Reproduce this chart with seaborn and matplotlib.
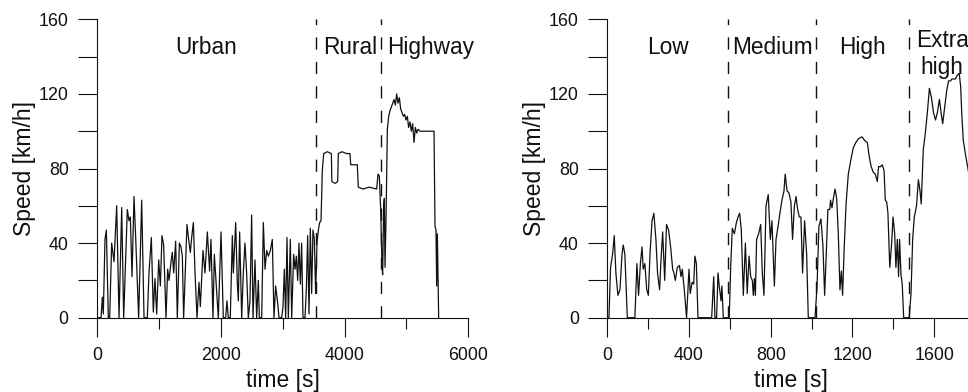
import matplotlib
matplotlib.use("Agg")
import matplotlib.pyplot as plt
import seaborn as sns

# RDE trip (left panel)
rde_time = [0, 65, 86, 102, 129, 151, 183, 205, 237, 275, 318, 356, 399, 431, 490, 517, 539, 566,
            598, 625, 673, 722, 760, 813, 840, 878, 910, 937, 964, 997, 1024, 1050, 1077, 1115,
            1142, 1164, 1196, 1217, 1239, 1271, 1298, 1331, 1357, 1379, 1400, 1454, 1481, 1508,
            1530, 1557, 1584, 1616, 1648, 1670, 1713, 1745, 1783, 1820, 1842, 1874, 1896, 1934,
            1960, 2004, 2041, 2079, 2100, 2122, 2154, 2187, 2203, 2241, 2268, 2284, 2305, 2338,
            2364, 2391, 2418, 2445, 2472, 2499, 2521, 2553, 2580, 2607, 2623, 2661, 2688, 2715,
            2742, 2769, 2801, 2833, 2860, 2887, 2919, 2941, 2984, 3006, 3027, 3049, 3070, 3092,
            3124, 3146, 3178, 3200, 3221, 3243, 3264, 3286, 3307, 3329, 3361, 3383, 3404, 3426,
            3447, 3469, 3490, 3512, 3533, 3555, 3577, 3598, 3620, 3641, 3663, 3720, 3787, 3795,
            3850, 3889, 3900, 3960, 4030, 4088, 4100, 4160, 4207, 4222, 4300, 4400, 4519, 4541,
            4562, 4584, 4606, 4616, 4632, 4643, 4654, 4670, 4692, 4713, 4735, 4767, 4800, 4821,
            4843, 4864, 4886, 4907, 4929, 4950, 4972, 4993, 5015, 5036, 5058, 5080, 5101, 5123,
            5144, 5166, 5187, 5220, 5327, 5446, 5462, 5478, 5489, 5500, 5521]
rde_speed = [0, 0, 11, 2, 42, 47, 0, 0, 40, 30, 60, 0, 59, 0, 58, 52, 54, 22,
             65, 43, 0, 63, 0, 0, 24, 43, 3, 21, 2, 31, 17, 44, 39, 0,
             26, 20, 30, 35, 24, 41, 0, 40, 38, 33, 0, 50, 42, 35,
             43, 51, 24, 0, 19, 6, 36, 24, 46, 25, 42, 0, 34, 14,
             0, 46, 0, 0, 9, 0, 0, 44, 24, 51, 18, 9, 46, 0,
             24, 40, 24, 0, 9, 55, 0, 31, 0, 20, 0, 0, 51, 26,
             36, 33, 36, 42, 0, 17, 8, 0, 0, 6, 26, 0, 43, 0,
             42, 0, 34, 26, 33, 20, 40, 18, 40, 0, 0, 15, 44, 2,
             48, 13, 47, 42, 13, 40, 47, 51, 52, 79, 88, 89, 88, 73,
             72, 73, 88, 89, 88, 88, 82, 82, 82, 70, 69, 70, 69, 77,
             76, 58, 27, 23, 60, 64, 27, 52, 101, 108, 111, 114, 117, 114,
             120, 115, 118, 112, 110, 108, 109, 106, 108, 102, 105, 100, 104, 94,
             102, 99, 101, 100, 100, 100, 49, 47, 17, 45, 0]

# WLTC (right panel)
wltc_time = [0, 8, 16, 26, 34, 42, 52, 62, 72, 78, 86, 98, 135, 145, 153, 162, 170, 176, 184,
             193, 201, 209, 219, 228, 238, 246, 256, 263, 271, 281, 290, 300, 310, 320, 326,
             333, 343, 353, 361, 367, 377, 388, 400, 406, 415, 423, 429, 436, 444, 511, 521,
             527, 535, 542, 548, 557, 561, 568, 597, 604, 612, 622, 632, 640, 648, 656, 666,
             676, 685, 694, 702, 710, 715, 720, 725, 731, 741, 751, 759, 767, 777, 788, 798,
             806, 818, 826, 836, 845, 855, 865, 871, 880, 889, 899, 907, 916, 924, 932, 940,
             948, 956, 966, 976, 984, 1017, 1027, 1036, 1046, 1056, 1064, 1072, 1080, 1089,
             1093, 1100, 1107, 1115, 1123, 1131, 1139, 1146, 1152, 1160, 1169, 1180, 1193,
             1204, 1217, 1230, 1247, 1260, 1273, 1283, 1292, 1302, 1312, 1322, 1328, 1338,
             1346, 1355, 1361, 1368, 1374, 1383, 1391, 1399, 1407, 1413, 1420, 1426, 1431,
             1438, 1444, 1451, 1478, 1487, 1495, 1503, 1514, 1523, 1531, 1537, 1547, 1557,
             1567, 1577, 1587, 1597, 1607, 1616, 1626, 1634, 1642, 1652, 1662, 1671, 1681,
             1687, 1697, 1705, 1713, 1723, 1730, 1736, 1743, 1753, 1764, 1775]
wltc_speed = [0, 0, 27, 34, 44, 24, 12, 15, 34, 39, 34, 0, 0, 29, 12, 29, 38, 26, 29,
              15, 12, 34, 52, 56, 42, 24, 15, 31, 46, 20, 50, 47, 38, 26, 24,
              20, 27, 28, 22, 26, 15, 0, 26, 13, 19, 18, 33, 29, 0, 0, 22,
              0, 0, 24, 17, 9, 17, 0, 0, 27, 48, 45, 51, 54, 56, 47, 12,
              40, 13, 33, 22, 20, 12, 21, 12, 42, 45, 50, 24, 12, 60, 66, 42,
              52, 17, 42, 49, 56, 63, 68, 77, 68, 67, 62, 42, 60, 65, 58, 54,
              54, 24, 52, 34, 0, 0, 17, 49, 53, 38, 12, 34, 58, 58,
              63, 59, 64, 69, 64, 45, 15, 25, 12, 38, 61, 77, 85,
              91, 94, 96, 97, 95, 94, 86, 81, 78, 77, 73, 81, 81,
              82, 79, 63, 62, 56, 27, 38, 54, 45, 27, 42, 22, 42,
              23, 18, 0, 0, 13, 42, 54, 60, 74, 68, 61, 90, 99,
              110, 123, 118, 110, 106, 110, 117, 110, 104, 113, 122, 127, 127,
              128, 128, 128, 130, 131, 124, 108, 95, 88, 81, 74]

rde_bounds = [3539, 4589]
rde_labels = [("Urban", 1266), ("Rural", 3652), ("Highway", 4686)]
wltc_bounds = [589, 1022, 1478]
wltc_labels = [("Low", 196), ("Medium", 612), ("High", 1136)]
wltc_last_label = ("Extra\nhigh", 1640)

sns.set_style("ticks")
plt.rcParams['font.family'] = ['Liberation Sans', 'DejaVu Sans']

ink = '#111111'
fig = plt.figure(figsize=(9.68, 3.92), dpi=100)
ax1 = fig.add_axes([97 / 968, 74.3 / 392, 371.3 / 968, 298.4 / 392])
ax2 = fig.add_axes([607.3 / 968, 74.3 / 392, 367.65 / 968, 298.4 / 392])


def style_axis(ax, xmax, xmajor, xminor, label_x):
    ax.set_xlim(0, xmax)
    ax.set_ylim(0, 160)
    ax.set_xticks(xmajor)
    ax.set_xticks(xminor, minor=True)
    ax.set_yticks([0, 40, 80, 120, 160])
    ax.set_yticks([20, 60, 100, 140], minor=True)
    sns.despine(ax=ax)
    for s in ['left', 'bottom']:
        ax.spines[s].set_color(ink)
        ax.spines[s].set_linewidth(0.8)
    ax.tick_params(axis='y', which='both', length=13.9, width=0.8, color=ink,
                   pad=6.5, labelsize=12.9, labelcolor=ink)
    ax.tick_params(axis='x', which='major', length=13.9, width=0.8, color=ink,
                   pad=7.2, labelsize=12.9, labelcolor=ink)
    ax.tick_params(axis='x', which='minor', length=7.7, width=0.8, color=ink)
    ax.set_xlabel("time [s]", fontsize=16.5, color=ink)
    ax.set_ylabel("Speed [km/h]", fontsize=16.5, color=ink)
    ax.xaxis.set_label_coords(0.5, -0.172)
    ax.yaxis.set_label_coords(label_x, 0.5)


sns.lineplot(x=rde_time, y=rde_speed, ax=ax1, color=ink, linewidth=0.9,
             sort=False, estimator=None)
sns.lineplot(x=wltc_time, y=wltc_speed, ax=ax2, color=ink, linewidth=0.9,
             sort=False, estimator=None)

style_axis(ax1, 6000, [0, 2000, 4000, 6000], [1000, 3000, 5000], -0.163)
style_axis(ax2, 1800, [0, 400, 800, 1200, 1600], [200, 600, 1000, 1400, 1800], -0.166)

for ax, bounds, labels in [(ax1, rde_bounds, rde_labels), (ax2, wltc_bounds, wltc_labels)]:
    for b in bounds:
        ax.axvline(b, color=ink, linewidth=1.0, linestyle=(0, (8.8, 8.8)))
    for txt, x in labels:
        ax.text(x, 141.4, txt, ha='left', va='baseline', fontsize=16.3, color=ink)

# va='baseline' on a two-line text anchors the last line
ax2.text(wltc_last_label[1], 130.6, wltc_last_label[0], ha='center', va='baseline',
         multialignment='center', linespacing=1.22, fontsize=16.3, color=ink)

fig.savefig("out.png", dpi=100)
